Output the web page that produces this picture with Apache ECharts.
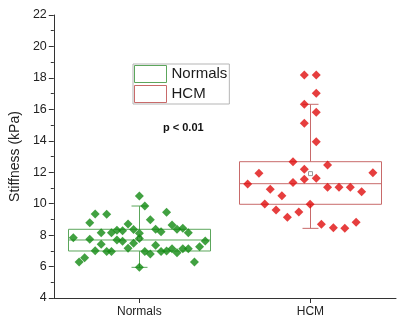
<!DOCTYPE html>
<html>
<head>
<meta charset="utf-8">
<script src="https://cdn.jsdelivr.net/npm/echarts@6/dist/echarts.min.js"></script>
<style>
  html, body { margin: 0; padding: 0; background: #fff; }
  #chart { width: 400px; height: 323px; }
</style>
</head>
<body>
<div id="chart"></div>
<script>
const categories = ['Normals', 'HCM'];
const categoryCenters = [0.5, 1.5];
const yTicks = [4, 6, 8, 10, 12, 14, 16, 18, 20, 22];

// box stats: [whisker low, Q1, median, Q3, whisker high, mean]
const normalsBox = [5.95, 6.99, 7.69, 8.37, 9.85, 7.78];
const hcmBox = [8.43, 9.96, 11.27, 12.67, 16.32, 11.91];

// jittered x positions (category units) and stiffness values
const normalsX = [0.5, 0.532, 0.242, 0.309, 0.659, 0.21, 0.564, 0.691, 0.434, 0.72,
  0.754, 0.595, 0.627, 0.786, 0.277, 0.337, 0.369, 0.402, 0.466, 0.5,
  0.114, 0.21, 0.5, 0.369, 0.402, 0.466, 0.277, 0.595, 0.434, 0.242,
  0.309, 0.337, 0.532, 0.564, 0.627, 0.659, 0.691, 0.72, 0.754, 0.786,
  0.852, 0.885, 0.148, 0.18, 0.822, 0.5];
const normalsY = [10.49, 9.85, 9.34, 9.32, 9.45, 8.79, 8.98, 8.64, 8.71, 8.37,
  8.43, 8.37, 8.22, 8.15, 8.15, 8.15, 8.31, 8.28, 8.35, 8.12,
  7.84, 7.73, 7.78, 7.69, 7.61, 7.48, 7.42, 7.35, 7.16, 7.01,
  6.95, 6.95, 6.95, 6.8, 6.95, 6.99, 7.14, 6.88, 7.14, 7.14,
  7.26, 7.63, 6.29, 6.56, 6.29, 5.95];

const hcmX = [1.464, 1.534, 1.534, 1.464, 1.534, 1.464, 1.534, 1.398, 1.6, 1.464,
  1.199, 1.865, 1.133, 1.398, 1.464, 1.534, 1.265, 1.6, 1.667, 1.733,
  1.799, 1.333, 1.233, 1.498, 1.299, 1.432, 1.365, 1.564, 1.634, 1.701, 1.767];
const hcmY = [18.19, 18.19, 17.02, 16.32, 15.81, 15.11, 13.94, 12.67, 12.46, 12.19,
  11.93, 11.97, 11.25, 11.34, 11.55, 11.61, 10.91, 11.04, 11.04, 11.04,
  10.76, 10.51, 9.98, 9.96, 9.6, 9.47, 9.13, 8.69, 8.47, 8.43, 8.82];

const greenPoint = '#128a12';
const greenLine = '#5ca65c';
const redPoint = '#e00e0e';
const redLine = '#c86a6a';
const font = 'Liberation Sans, Arial, sans-serif';

const zip = (xs, ys) => xs.map((x, i) => [x, ys[i]]);

// draws one box with whiskers through the axis scales
const makeBoxRenderer = (color) => (params, api) => {
  const x = api.value(0);
  const lo = api.coord([x, api.value(1)]);
  const q1 = api.coord([x, api.value(2)]);
  const med = api.coord([x, api.value(3)]);
  const q3 = api.coord([x, api.value(4)]);
  const hi = api.coord([x, api.value(5)]);
  const mean = api.coord([x, api.value(6)]);
  const halfW = 71;
  const capW = 8;
  const cx = Math.round(lo[0]) + 0.5;
  const ln = { stroke: color, lineWidth: 1, fill: null };
  return {
    type: 'group',
    children: [
      { type: 'rect', shape: { x: cx - halfW, y: q3[1], width: halfW * 2, height: q1[1] - q3[1] }, style: ln },
      { type: 'line', shape: { x1: cx - halfW, y1: med[1], x2: cx + halfW, y2: med[1] }, style: ln },
      { type: 'line', shape: { x1: cx, y1: q3[1], x2: cx, y2: hi[1] }, style: ln },
      { type: 'line', shape: { x1: cx, y1: q1[1], x2: cx, y2: lo[1] }, style: ln },
      { type: 'line', shape: { x1: cx - capW, y1: hi[1], x2: cx + capW, y2: hi[1] }, style: ln },
      { type: 'line', shape: { x1: cx - capW, y1: lo[1], x2: cx + capW, y2: lo[1] }, style: ln },
      { type: 'rect', shape: { x: cx - 2, y: mean[1] - 2, width: 4, height: 4 }, style: { stroke: '#999', lineWidth: 1, fill: '#fff' } }
    ]
  };
};

const chart = echarts.init(document.getElementById('chart'));

const option = {
  animation: false,
  textStyle: { fontFamily: font },
  grid: { left: 44, right: 4, top: 15, bottom: 25 },
  legend: {
    orient: 'vertical',
    left: 133,
    top: 64,
    itemWidth: 32,
    itemHeight: 17,
    itemGap: 2,
    padding: [1, 2, 1, 1],
    borderColor: '#b5b5b5',
    borderWidth: 1,
    selectedMode: false,
    textStyle: { fontSize: 15, color: '#1a1a1a', fontFamily: font },
    data: [
      { name: 'Normals', icon: 'rect', itemStyle: { color: '#fff', borderColor: greenLine, borderWidth: 1 } },
      { name: 'HCM', icon: 'rect', itemStyle: { color: '#fff', borderColor: redLine, borderWidth: 1 } }
    ]
  },
  graphic: [{
    type: 'text',
    left: 163,
    top: 122,
    style: { text: 'p < 0.01', font: 'bold 11px ' + font, fill: '#111' }
  }],
  xAxis: {
    type: 'value',
    min: 0,
    max: 2,
    splitLine: { show: false },
    axisLine: { lineStyle: { color: '#333' } },
    axisTick: { show: true, length: 5, customValues: categoryCenters, lineStyle: { color: '#333' } },
    axisLabel: {
      customValues: categoryCenters,
      fontSize: 12,
      color: '#222',
      margin: 8,
      formatter: (v) => categories[categoryCenters.indexOf(v)] || ''
    }
  },
  yAxis: {
    type: 'value',
    min: yTicks[0],
    max: yTicks[yTicks.length - 1],
    interval: 2,
    name: 'Stiffness (kPa)',
    nameLocation: 'middle',
    nameGap: 29,
    nameTextStyle: { fontSize: 14, color: '#222', fontFamily: font },
    splitLine: { show: false },
    axisLine: { show: true, lineStyle: { color: '#333' } },
    axisTick: { show: true, length: 5, lineStyle: { color: '#333' } },
    minorTick: { show: true, splitNumber: 2, length: 3, lineStyle: { color: '#333' } },
    axisLabel: { fontSize: 12.5, color: '#222', margin: 7 }
  },
  series: [
    {
      name: 'Normals',
      type: 'custom',
      z: 1,
      renderItem: makeBoxRenderer(greenLine),
      encode: { x: 0, y: [1, 2, 3, 4, 5] },
      data: [[categoryCenters[0]].concat(normalsBox)]
    },
    {
      name: 'HCM',
      type: 'custom',
      z: 1,
      renderItem: makeBoxRenderer(redLine),
      encode: { x: 0, y: [1, 2, 3, 4, 5] },
      data: [[categoryCenters[1]].concat(hcmBox)]
    },
    {
      name: 'Normals points',
      type: 'scatter',
      z: 3,
      symbol: 'diamond',
      symbolSize: 9,
      itemStyle: { color: greenPoint },
      data: zip(normalsX, normalsY)
    },
    {
      name: 'HCM points',
      type: 'scatter',
      z: 3,
      symbol: 'diamond',
      symbolSize: 9,
      itemStyle: { color: redPoint },
      data: zip(hcmX, hcmY)
    }
  ]
};

chart.setOption(option);
</script>
</body>
</html>
